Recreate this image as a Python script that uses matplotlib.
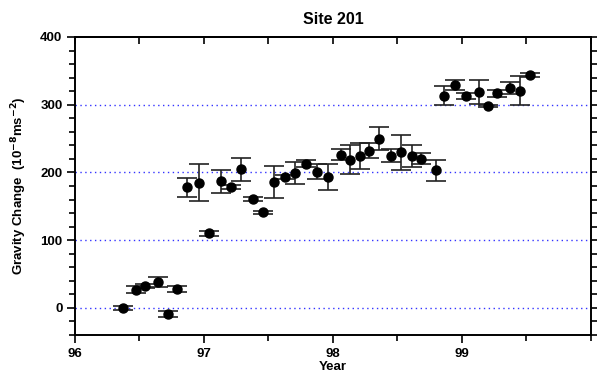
import matplotlib.pyplot as plt
from matplotlib.ticker import MultipleLocator

plt.rcParams['font.family'] = ['Liberation Sans', 'DejaVu Sans']
plt.rcParams['font.weight'] = 'bold'

# decimal year (19xx) and gravity change in 10^-8 m s^-2
year = [96.375, 96.47, 96.54, 96.64, 96.72, 96.79, 96.87, 96.96, 97.04,
        97.13, 97.21, 97.29, 97.38, 97.46, 97.54, 97.63, 97.71, 97.79,
        97.88, 97.96, 98.06, 98.13, 98.21, 98.28, 98.36, 98.45, 98.53,
        98.61, 98.68, 98.80, 98.86, 98.95, 99.03, 99.13, 99.20, 99.27,
        99.37, 99.45, 99.53]
gravity = [0, 27, 33, 38, -9, 28, 178, 185, 110,
           187, 179, 205, 161, 141, 186, 193, 199, 213,
           201, 193, 226, 219, 224, 232, 250, 225, 230,
           224, 220, 203, 313, 329, 313, 319, 298, 317,
           325, 321, 344]
err = [3, 5, 3, 7, 4, 4, 14, 27, 4,
       17, 3, 17, 3, 2, 24, 3, 16, 5,
       11, 19, 8, 21, 19, 11, 17, 10, 26,
       16, 8, 16, 14, 7, 5, 18, 2, 5,
       9, 22, 3]

fig = plt.figure(figsize=(5.97, 3.76), dpi=100)
ax = fig.add_axes([0.1256, 0.109, 0.864, 0.7926])

for g in [0, 100, 200, 300]:
    ax.axhline(g, color='#3333ff', linestyle=(0, (1, 2.5)), linewidth=1.0, zorder=1)

ax.errorbar(year, gravity, yerr=err, fmt='o', color='black', markersize=6.5,
            ecolor='#222222', elinewidth=1.2, capsize=7, capthick=1.2, zorder=3)

ax.set_xlim(96, 100)
ax.set_ylim(-40, 400)
ax.set_xticks([96, 97, 98, 99])
ax.xaxis.set_minor_locator(MultipleLocator(0.5))
ax.yaxis.set_major_locator(MultipleLocator(100))
ax.yaxis.set_minor_locator(MultipleLocator(20))

ax.tick_params(axis='both', which='both', direction='out', labelsize=9.5, width=1.2)
ax.tick_params(axis='both', which='major', length=6, pad=3)
ax.tick_params(axis='both', which='minor', length=4)
ax.tick_params(axis='y', right=True, which='both')

# top axis: ticks pointing inward, no labels
top = ax.secondary_xaxis('top')
top.set_xticks([96, 97, 98, 99])
top.xaxis.set_minor_locator(MultipleLocator(0.5))
top.tick_params(which='both', direction='in', length=5, width=1.2, labeltop=False)
top.spines['top'].set_linewidth(1.4)

for s in ax.spines.values():
    s.set_linewidth(1.4)

ax.set_title('Site 201', fontsize=11.5, fontweight='bold', pad=9)
ax.set_xlabel('Year', fontsize=9.5, fontweight='bold', labelpad=1)
ax.set_ylabel('Gravity Change  (10$^{\\mathbf{-8}}$ms$^{\\mathbf{-2}}$)', fontsize=9.5,
              fontweight='bold', labelpad=8)

fig.savefig('out.png', dpi=100)
